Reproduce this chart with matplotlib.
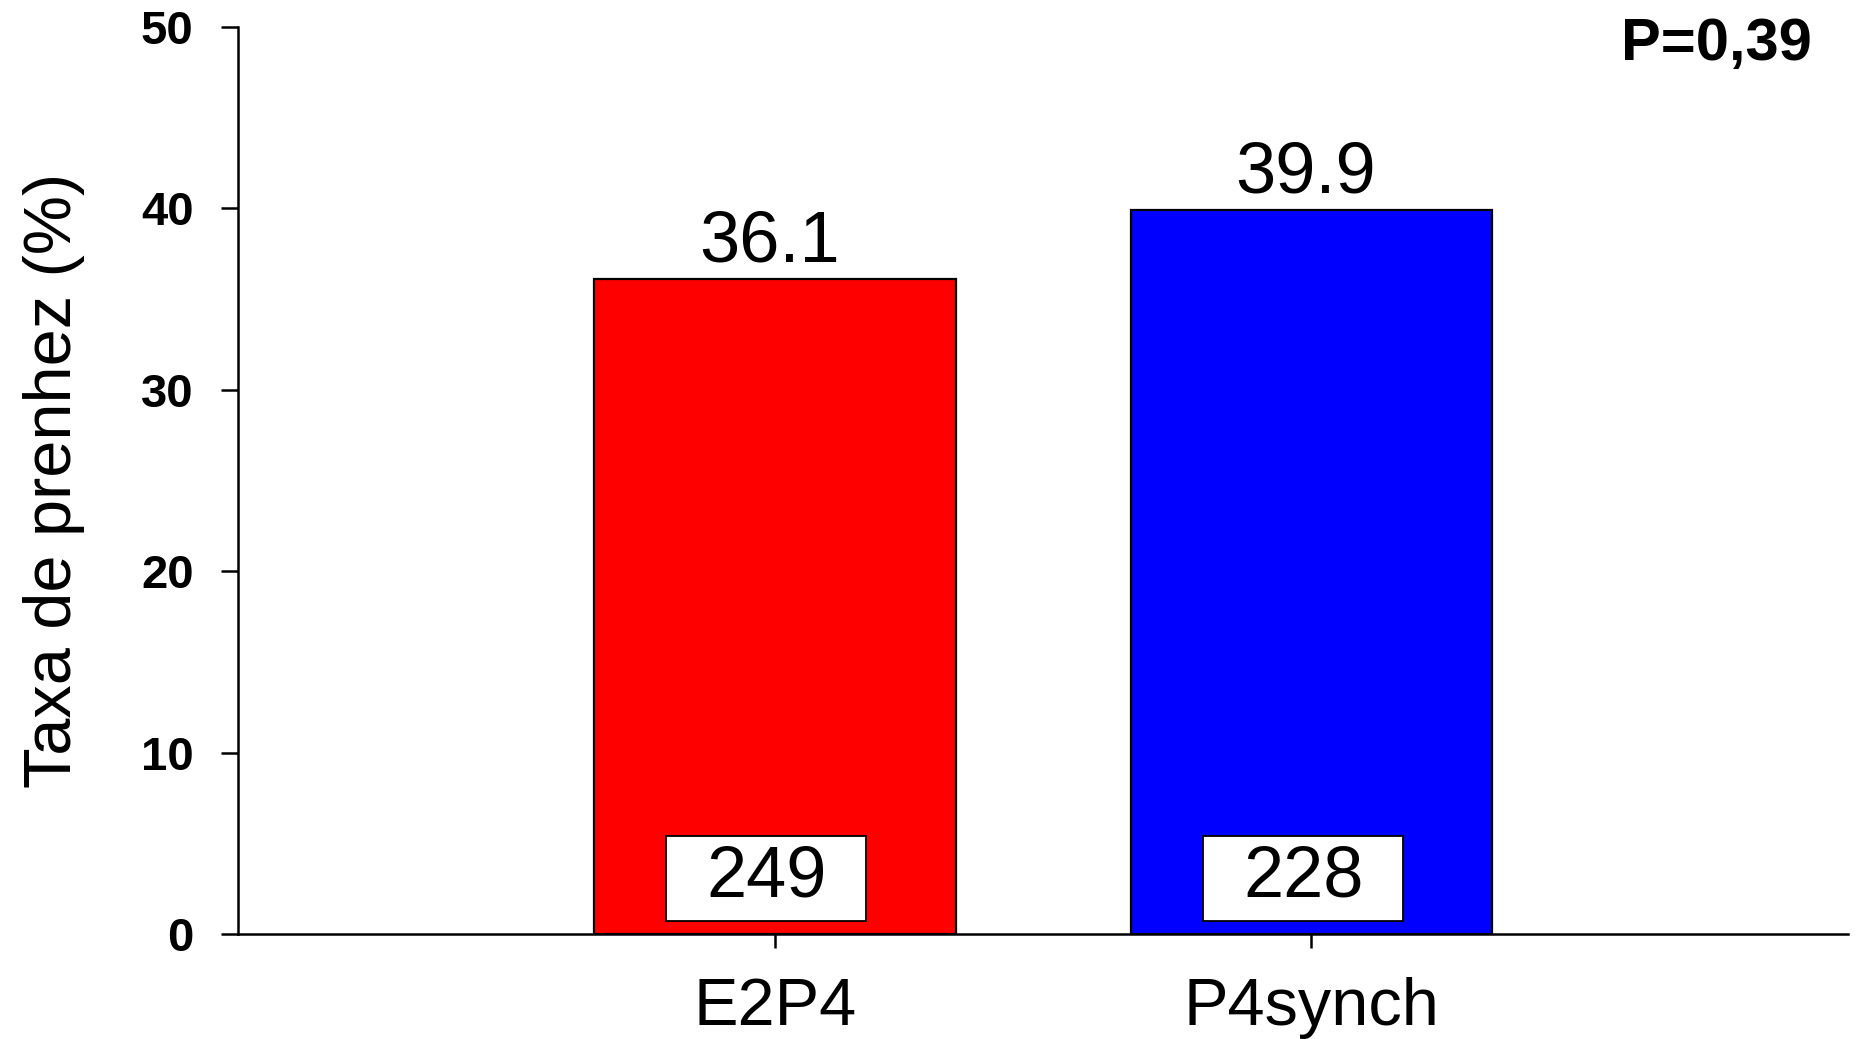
import matplotlib
matplotlib.use('Agg')
import matplotlib.pyplot as plt
from matplotlib.path import Path

# pregnancy rate per protocol, with number of animals in each group
grupos = ['E2P4', 'P4synch']
taxa = [36.1, 39.9]
n_animais = [249, 228]
cores = ['#ff0000', '#0000ff']
p_valor = 'P=0,39'

plt.rcParams['font.family'] = ['Liberation Sans', 'DejaVu Sans']


def caixa(x0, y0, width, height, mutation_size):
    # wide, flat rectangle round the n labels
    px = 0.55 * mutation_size
    py = 0.13 * mutation_size
    x1, y1 = x0 - px, y0 - py
    x2, y2 = x0 + width + px, y0 + height + py
    return Path([(x1, y1), (x2, y1), (x2, y2), (x1, y2), (x1, y1)], closed=True)


fig = plt.figure(figsize=(18.57, 10.39), dpi=100)
ax = fig.add_axes([0.1282, 0.1011, 0.8670, 0.8729])

posicoes = [1, 2]
barras = ax.bar(posicoes, taxa, width=0.674, color=cores,
                edgecolor='black', linewidth=1.6, zorder=2)

# value above each bar
for x, v in zip(posicoes, taxa):
    ax.annotate(f'{v:.1f}', xy=(x, v), xytext=(-4, 13),
                textcoords='offset points', ha='center', va='baseline',
                fontsize=52)

# n inside a white box near the base of each bar
for x, n in zip(posicoes, n_animais):
    ax.annotate(str(n), xy=(x, 0), xytext=(-6, 40),
                textcoords='offset points', ha='center', va='center',
                fontsize=52, zorder=3,
                bbox=dict(boxstyle=caixa, fc='white', ec='black', lw=1.3))

ax.text(0.9776, 1.011, p_valor, transform=ax.transAxes, ha='right',
        va='top', fontsize=43, fontweight='bold')

ax.set_xlim(0, 3)
ax.set_ylim(0, 50)
ax.set_yticks([0, 10, 20, 30, 40, 50])
ax.set_xticks(posicoes)
ax.set_xticklabels(grupos, fontsize=48)
for lab in ax.get_yticklabels():
    lab.set_fontsize(34)
    lab.set_fontweight('bold')

ax.spines['top'].set_visible(False)
ax.spines['right'].set_visible(False)
ax.spines['left'].set_linewidth(1.8)
ax.spines['bottom'].set_linewidth(1.8)
ax.tick_params(axis='y', length=12, width=1.8, pad=20)
ax.tick_params(axis='x', length=10, width=1.8, pad=21)

ax.set_ylabel('Taxa de prenhez (%)', fontsize=48)
ax.yaxis.set_label_coords(-0.095, 0.5)

fig.savefig('out.png', dpi=100)
